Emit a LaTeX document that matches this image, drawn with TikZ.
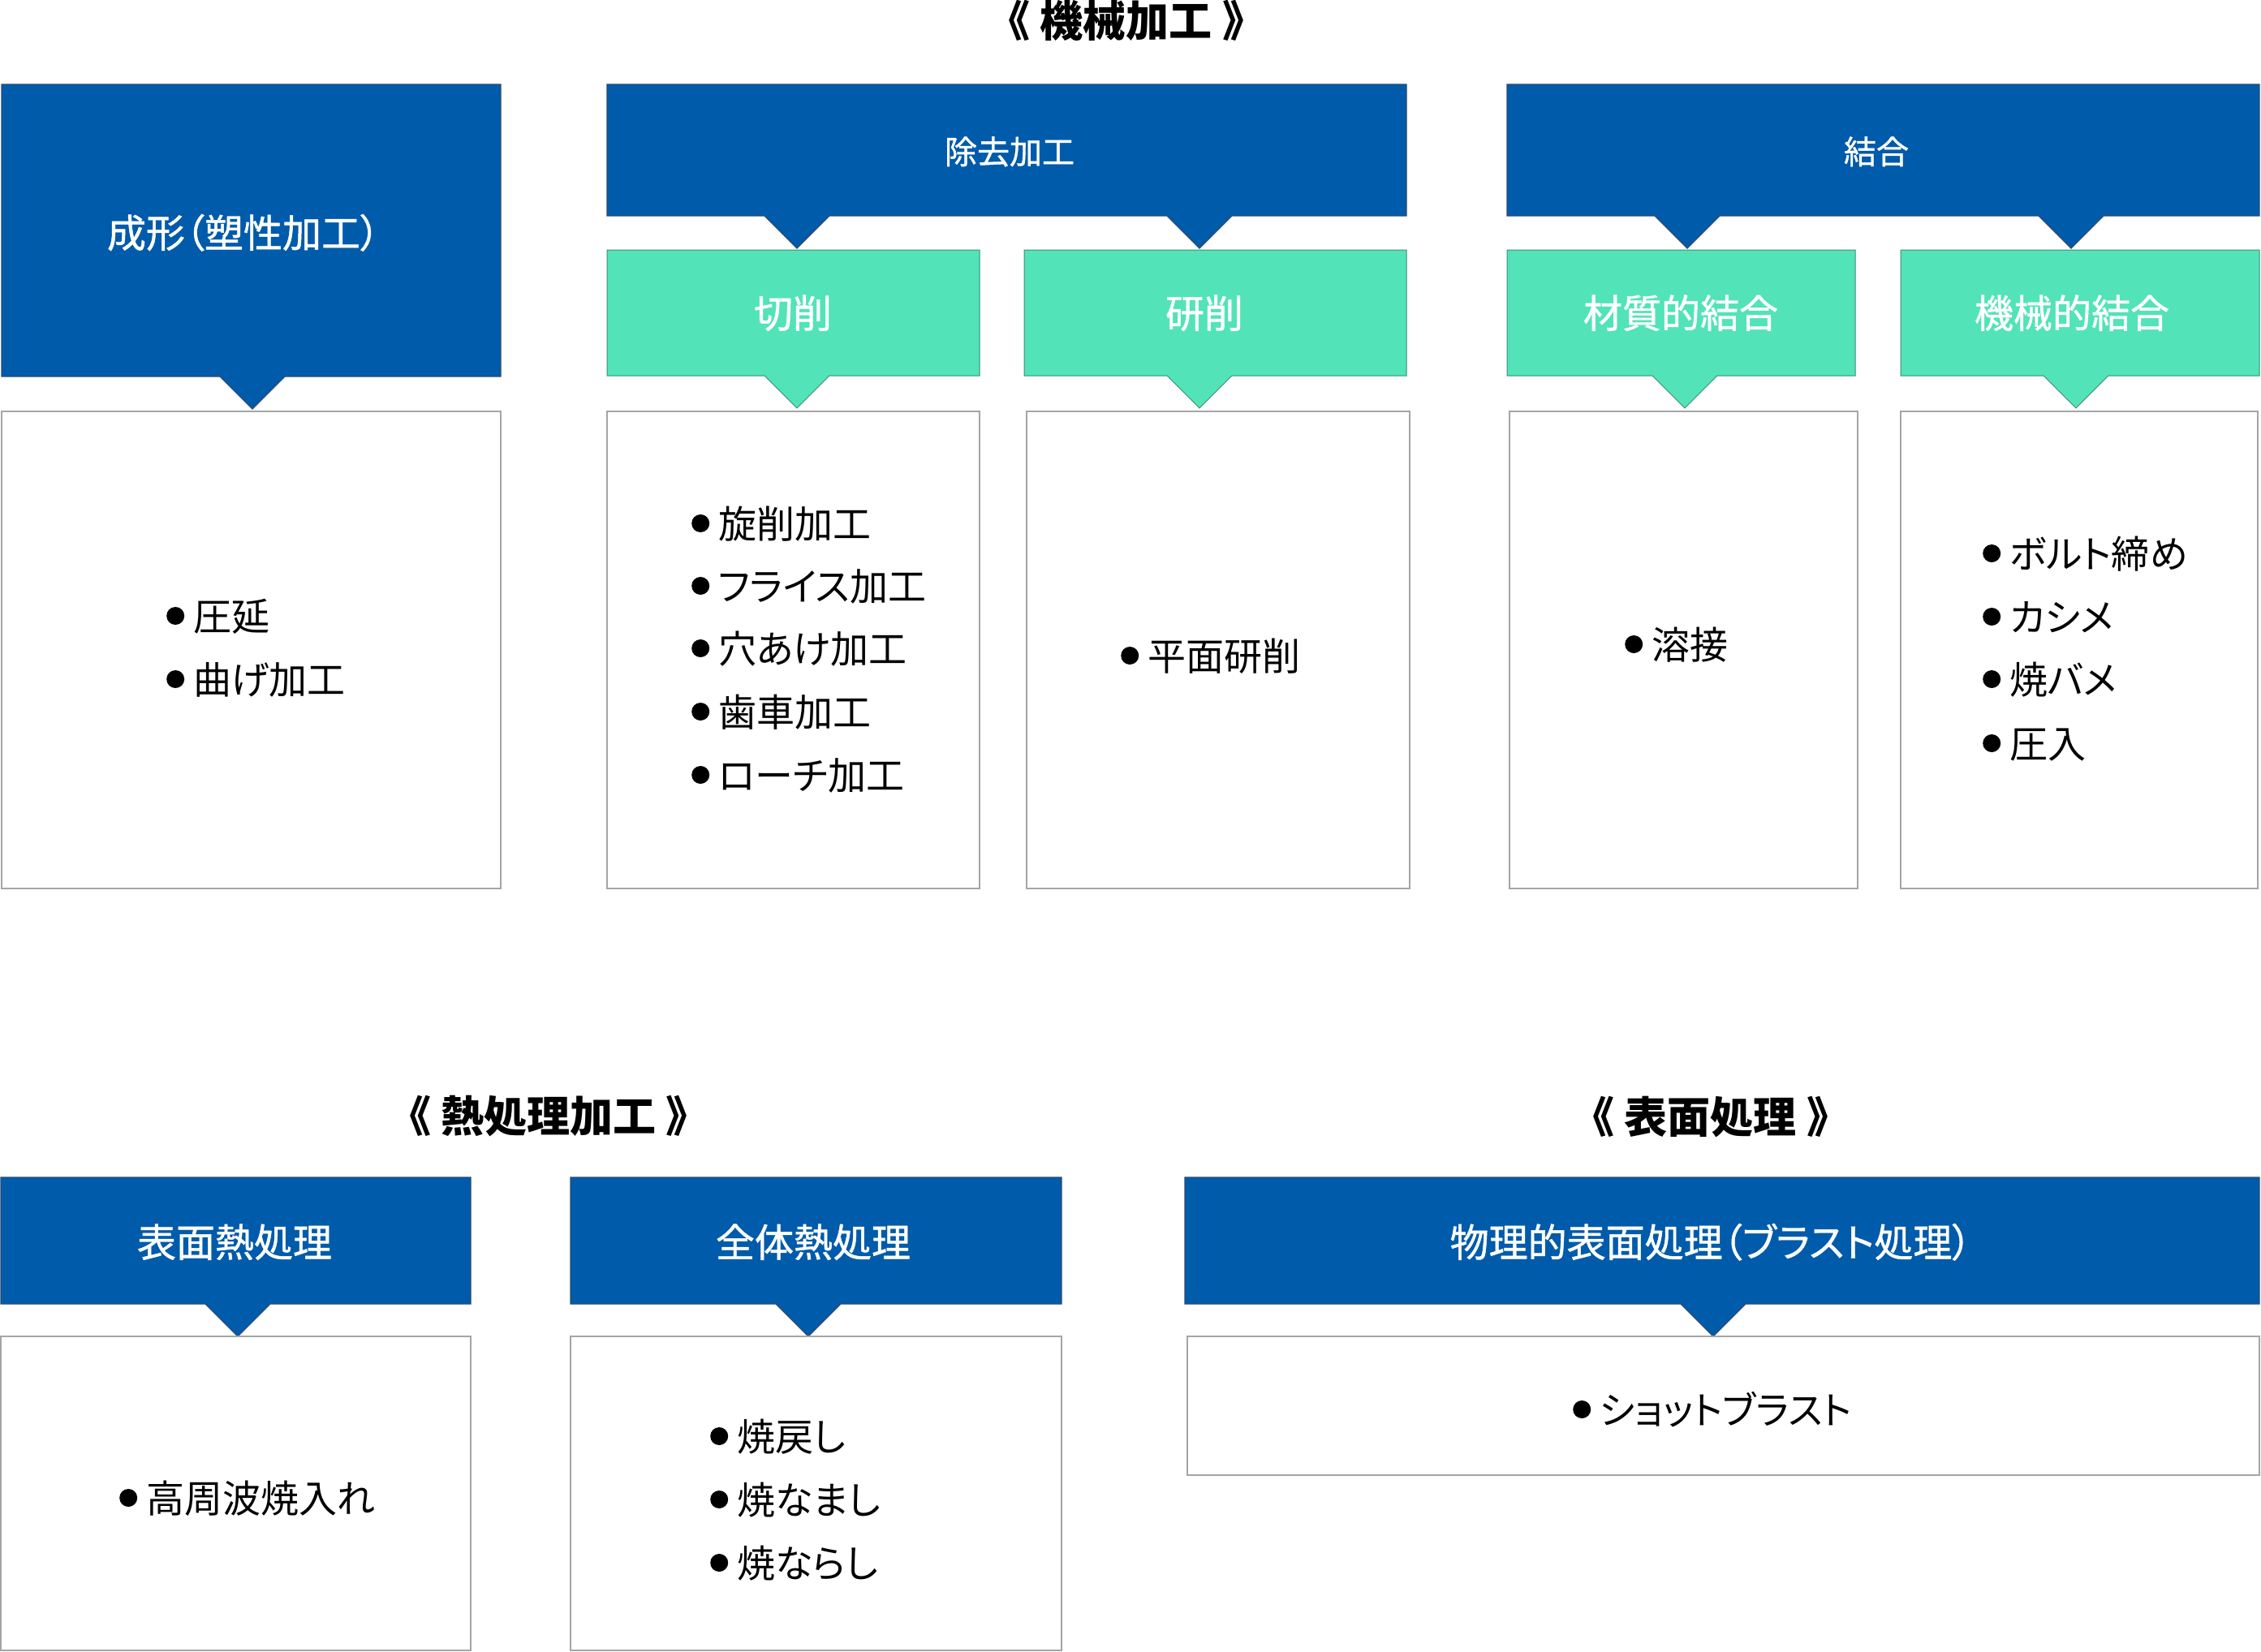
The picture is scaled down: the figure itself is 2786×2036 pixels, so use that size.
\documentclass[tikz,border=0pt]{standalone}
\usepackage{fontspec}
\setmainfont{Noto Sans CJK JP}
\newfontfamily\pf[RawFeature=+palt]{Noto Sans CJK JP}
\newfontfamily\pfb[RawFeature=+palt,FakeBold=1.0]{Noto Sans CJK JP}
\definecolor{bblue}{RGB}{0,91,171}
\definecolor{bborder}{RGB}{45,75,110}
\definecolor{mint}{RGB}{83,227,184}
\definecolor{mborder}{RGB}{60,140,115}
\definecolor{wborder}{RGB}{165,165,165}
\newcommand{\bul}{\tikz[baseline=0pt,x=1pt,y=1pt]{\fill[black] (11,18) circle (11);}\hspace{11pt}}
\newcommand{\callout}[6]{\draw[#1] (#2,#3) -- (#4,#3) -- (#4,#5) -- ({#6+40},#5) -- (#6,{#5+40}) -- ({#6-40},#5) -- (#2,#5) -- cycle;}
\tikzset{
  bluebox/.style={fill=bblue, draw=bborder, line width=1.2pt},
  mintbox/.style={fill=mint, draw=mborder, line width=1pt},
  whitebox/.style={fill=white, draw=wborder, line width=1.6pt},
  hdr/.style={text=white, anchor=base, inner sep=0pt, font=\pfb\fontsize{48}{48}\selectfont},
  hdrs/.style={text=white, anchor=base, inner sep=0pt, font=\pfb\fontsize{40}{40}\selectfont},
  item/.style={anchor=base west, inner sep=0pt, font=\pf\fontsize{47}{47}\selectfont},
  ttl/.style={anchor=base, inner sep=0pt, font=\bfseries\fontsize{53}{53}\selectfont},
}
\begin{document}
\begin{tikzpicture}[x=1pt,y=-1pt]
\useasboundingbox[fill=white] (0,0) rectangle (2786,2036);

% ---------- titles ----------
\node[ttl] (t1) at (1388,46) {《 機械加工 》};
\node[ttl] (t2) at (676,1395) {《 熱処理加工 》};
\node[ttl] (t3) at (2108,1396) {《 表面処理 》};

% ---------- 成形 ----------
\callout{bluebox}{2}{104}{617}{464}{311}
\node[hdr] (seikei) at (300,305) {成形（塑性加工）};
\draw[whitebox] (2,507) rectangle (617,1095);
\node[item] (s1) at (205,777) {\bul 圧延};
\node[item] (s2) at (205,855) {\bul 曲げ加工};

% ---------- 除去加工 ----------
\draw[bluebox] (748,104) -- (1733,104) -- (1733,266) -- (1518,266) -- (1478,306) -- (1438,266)
  -- (1022,266) -- (982,306) -- (942,266) -- (748,266) -- cycle;
\node[hdrs] (jokyo) at (1244,202) {除去加工};
\callout{mintbox}{748}{308}{1207}{463}{982}
\node[hdr] (sesaku) at (977,404) {切削};
\callout{mintbox}{1262}{308}{1733}{463}{1478}
\node[hdr] (kensaku) at (1484,404) {研削};
\draw[whitebox] (748,507) rectangle (1207,1095);
\node[item] (c1) at (852,663) {\bul 旋削加工};
\node[item] (c2) at (852,740) {\bul フライス加工};
\node[item] (c3) at (852,817) {\bul 穴あけ加工};
\node[item] (c4) at (852,895) {\bul 歯車加工};
\node[item] (c5) at (852,973) {\bul ローチ加工};
\draw[whitebox] (1265,507) rectangle (1737,1095);
\node[item] (k1) at (1381,826) {\bul 平面研削};

% ---------- 結合 ----------
\draw[bluebox] (1857,104) -- (2784,104) -- (2784,266) -- (2592,266) -- (2552,306) -- (2512,266)
  -- (2119,266) -- (2079,306) -- (2039,266) -- (1857,266) -- cycle;
\node[hdrs] (ketsugo) at (2312,202) {結合};
\callout{mintbox}{1857}{308}{2286}{463}{2076}
\node[hdr] (zaishitsu) at (2071,404) {材質的結合};
\callout{mintbox}{2342}{308}{2784}{463}{2558}
\node[hdr] (kikai) at (2553,404) {機械的結合};
\draw[whitebox] (1860,507) rectangle (2289,1095);
\node[item] (z1) at (2002,812) {\bul 溶接};
\draw[whitebox] (2342,507) rectangle (2782,1095);
\node[item] (m1) at (2443,700) {\bul ボルト締め};
\node[item] (m2) at (2443,778) {\bul カシメ};
\node[item] (m3) at (2443,855) {\bul 焼バメ};
\node[item] (m4) at (2443,934) {\bul 圧入};

% ---------- 熱処理加工 ----------
\callout{bluebox}{1}{1451}{580}{1607}{293}
\node[hdr] (hyomennetsu) at (289,1549) {表面熱処理};
\draw[whitebox] (1,1647) rectangle (580,2034);
\node[item] (h1) at (147,1864) {\bul 高周波焼入れ};
\callout{bluebox}{703}{1451}{1308}{1607}{996}
\node[hdr] (zentai) at (1002,1549) {全体熱処理};
\draw[whitebox] (703,1647) rectangle (1308,2034);
\node[item] (w1) at (875,1788) {\bul 焼戻し};
\node[item] (w2) at (875,1866) {\bul 焼なまし};
\node[item] (w3) at (875,1944) {\bul 焼ならし};

% ---------- 表面処理 ----------
\callout{bluebox}{1460}{1451}{2784}{1607}{2111}
\node[hdr] (butsuri) at (2108,1549) {物理的表面処理（ブラスト処理）};
\draw[whitebox] (1463,1647) rectangle (2784,1818);
\node[item] (b1) at (1938,1755) {\bul ショットブラスト};
\end{tikzpicture}
\end{document}
